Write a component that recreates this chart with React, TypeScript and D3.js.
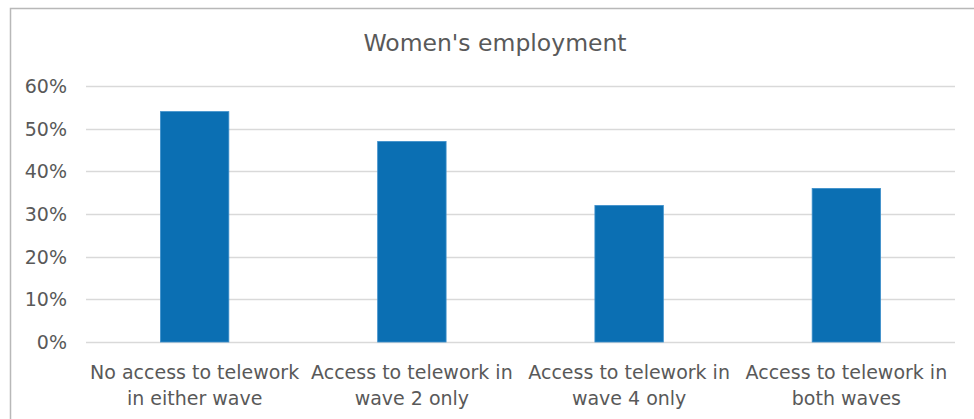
import React from "react";
import * as d3 from "d3";

const categories: string[][] = [
  ["No access to telework", "in either wave"],
  ["Access to telework in", "wave 2 only"],
  ["Access to telework in", "wave 4 only"],
  ["Access to telework in", "both waves"],
];
const values: number[] = [0.54, 0.47, 0.32, 0.36];
const yTicks: number[] = [0, 0.1, 0.2, 0.3, 0.4, 0.5, 0.6];
const title = "Women's employment";

const W = 974;
const H = 419;
const FONT = "'DejaVu Sans', sans-serif";

export default function App() {
  const x = d3
    .scaleBand<number>()
    .domain(values.map((_, i) => i))
    .range([86, 955])
    .paddingInner(0.685)
    .paddingOuter(0.3425);
  const y = d3.scaleLinear().domain([0, 0.6]).range([342, 86]);
  const fmt = d3.format(".0%");

  return (
    <svg
      width={W}
      height={H}
      style={{ position: "absolute", left: 0, top: 0, background: "#fff" }}
      fontFamily={FONT}
    >
      <rect x={0} y={0} width={W} height={H} fill="#fff" />
      <path d={`M10.5,${H} V8.5 H${W}`} fill="none" stroke="#b8b8b8" strokeWidth={1.5} />
      <text x={495} y={51} textAnchor="middle" fontSize={23.5} fill="#595959">
        {title}
      </text>
      {yTicks.map((t) => (
        <g key={t}>
          <line x1={86} x2={955} y1={Math.round(y(t)) + 0.5} y2={Math.round(y(t)) + 0.5} stroke="#d9d9d9" strokeWidth={1.3} />
          <text x={67} y={y(t)} dy="0.36em" textAnchor="end" fontSize={19} fill="#595959">
            {fmt(t)}
          </text>
        </g>
      ))}
      {values.map((v, i) => (
        <rect
          key={i}
          x={x(i)!}
          y={y(v)}
          width={x.bandwidth()}
          height={y(0) - y(v)}
          fill="#0b6fb3"
          stroke="#3d8fcb"
          strokeWidth={0.8}
        />
      ))}
      {categories.map((lines, i) => {
        const cx = x(i)! + x.bandwidth() / 2;
        return (
          <text key={i} x={cx} textAnchor="middle" fontSize={19} fill="#595959">
            {lines.map((l, j) => (
              <tspan key={j} x={cx} y={379 + j * 26}>
                {l}
              </tspan>
            ))}
          </text>
        );
      })}
    </svg>
  );
}
